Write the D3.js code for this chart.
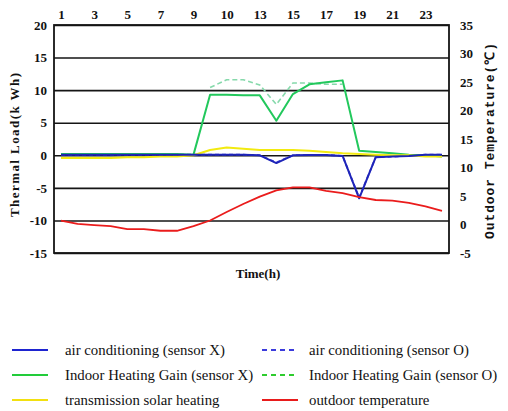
<!DOCTYPE html>
<html>
<head>
<meta charset="utf-8">
<script src="https://d3js.org/d3.v7.min.js"></script>
<style>
  body { margin: 0; background: #fff; }
</style>
</head>
<body>
<svg id="chart" width="508" height="411"></svg>
<script>
  // hours of the day and the labels printed along the top
  const hours = d3.range(1, 25);
  const topTickHours = [1, 3, 5, 7, 9, 11, 13, 15, 17, 19, 21, 23];
  const topTickLabels = ["1", "3", "5", "7", "9", "10", "13", "15", "17", "19", "21", "23"];
  const leftTicks = [-15, -10, -5, 0, 5, 10, 15, 20];
  const rightTicks = [-5, 0, 5, 10, 15, 20, 25, 30, 35];

  // thermal load (kWh), left axis
  const acX = [0.1, 0.1, 0.1, 0.1, 0.1, 0.1, 0.1, 0.1, 0.1, 0.1, 0.1, 0.1, 0.0, -1.2, 0.0, 0.05, 0.05, -0.1, -6.6, -0.3, -0.2, -0.1, 0.1, 0.1];
  const acO = [0.1, 0.1, 0.1, 0.1, 0.1, 0.1, 0.1, 0.1, 0.1, 0.1, 0.1, 0.1, 0.0, -1.1, 0.0, 0.05, 0.05, -0.1, -6.5, -0.3, -0.2, -0.1, 0.1, 0.1];
  const heatX = [0.2, 0.2, 0.2, 0.2, 0.2, 0.2, 0.2, 0.2, 0.1, 9.3, 9.3, 9.2, 9.2, 5.3, 9.4, 10.9, 11.2, 11.5, 0.7, 0.5, 0.3, 0.1, 0.0, -0.2];
  const heatO = [null, null, null, null, null, null, null, null, null, 10.4, 11.6, 11.6, 10.8, 7.8, 11.1, 11.1, 10.9, 10.9, null, null, null, null, null, null];
  const solar = [-0.4, -0.4, -0.4, -0.4, -0.3, -0.3, -0.2, -0.2, 0.0, 0.8, 1.2, 1.0, 0.8, 0.8, 0.8, 0.7, 0.5, 0.3, 0.2, 0.1, 0.0, 0.0, -0.2, -0.2];
  // outdoor temperature (°C), right axis
  const outdoor = [0.7, 0.1, -0.1, -0.3, -0.8, -0.8, -1.1, -1.1, -0.3, 0.7, 2.2, 3.6, 4.9, 6.0, 6.5, 6.5, 5.9, 5.5, 4.8, 4.3, 4.2, 3.8, 3.2, 2.4];

  const serif = "'Liberation Serif', 'Times New Roman', 'DejaVu Serif', serif";
  const mono = "'Liberation Mono', 'Courier New', 'DejaVu Sans Mono', monospace";

  const svg = d3.select("#chart");
  svg.append("rect").attr("width", 508).attr("height", 411).attr("fill", "#fff");

  const plot = { left: 54, right: 449, top: 25, bottom: 253 };
  const plotW = plot.right - plot.left;

  const x = d3.scaleLinear().domain([1, 24]).range([61, 442]);
  const y = d3.scaleLinear().domain([-15, 20]).range([plot.bottom, plot.top]);
  const yR = d3.scaleLinear().domain([-5, 35]).range([plot.bottom, plot.top]);

  const fmt = d => String(d);
  const styleTicks = g => g.selectAll(".tick text")
    .style("font-family", serif).style("font-weight", "bold")
    .style("font-size", "13px").attr("fill", "#111");

  // left axis with grid lines
  const gLeft = svg.append("g")
    .attr("transform", `translate(${plot.left},0)`)
    .call(d3.axisLeft(y).tickValues(leftTicks).tickFormat(fmt).tickSizeInner(-plotW).tickSizeOuter(0).tickPadding(7));
  gLeft.select(".domain").remove();
  gLeft.selectAll(".tick line").attr("stroke", "#151515").attr("stroke-width", 1.6);
  styleTicks(gLeft);

  // top axis labels
  const gTop = svg.append("g")
    .attr("transform", `translate(0,${plot.top})`)
    .call(d3.axisTop(x).tickValues(topTickHours).tickFormat((d, i) => topTickLabels[i]).tickSize(0).tickPadding(6));
  gTop.select(".domain").remove();
  styleTicks(gTop);

  // right axis labels
  const gRight = svg.append("g")
    .attr("transform", `translate(${plot.right},0)`)
    .call(d3.axisRight(yR).tickValues(rightTicks).tickFormat(fmt).tickSize(0).tickPadding(11));
  gRight.select(".domain").remove();
  styleTicks(gRight);

  // frame
  svg.append("rect")
    .attr("x", plot.left).attr("y", plot.top)
    .attr("width", plotW).attr("height", plot.bottom - plot.top)
    .attr("fill", "none").attr("stroke", "#151515").attr("stroke-width", 1.8);

  const lineL = d3.line().defined(d => d[1] !== null).x(d => x(d[0])).y(d => y(d[1]));
  const lineR = d3.line().x(d => x(d[0])).y(d => yR(d[1]));
  const pairs = arr => hours.map((h, i) => [h, arr[i]]);

  const series = [
    { data: heatO, line: lineL, color: "#86d9ab", width: 1.6, dash: "5,3" },
    { data: acO, line: lineL, color: "#4a4ae0", width: 1.8, dash: "4,3" },
    { data: heatX, line: lineL, color: "#22c85c", width: 2, dash: null },
    { data: solar, line: lineL, color: "#f2ea10", width: 2, dash: null },
    { data: acX, line: lineL, color: "#1e24b8", width: 2, dash: null },
    { data: outdoor, line: lineR, color: "#ea1c1c", width: 1.8, dash: null }
  ];

  svg.append("g").selectAll("path")
    .data(series)
    .enter().append("path")
    .attr("d", s => s.line(pairs(s.data)))
    .attr("fill", "none")
    .attr("stroke", s => s.color)
    .attr("stroke-width", s => s.width)
    .attr("stroke-dasharray", s => s.dash)
    .attr("stroke-linejoin", "round");

  // axis titles
  svg.append("text")
    .attr("transform", "translate(19,145) rotate(-90)")
    .attr("text-anchor", "middle")
    .attr("textLength", 144)
    .style("font-family", serif)
    .style("font-weight", "bold").style("font-size", "13px").attr("fill", "#111")
    .text("Thermal Load(k Wh)");

  svg.append("text")
    .attr("transform", "translate(494,141) rotate(-90)")
    .attr("text-anchor", "middle")
    .attr("textLength", 196)
    .style("font-family", mono)
    .style("font-weight", "bold").style("font-size", "13px").attr("fill", "#111")
    .text("Outdoor Temperature(℃)");

  svg.append("text")
    .attr("x", 258).attr("y", 278)
    .attr("text-anchor", "middle")
    .style("font-family", serif)
    .style("font-weight", "bold").style("font-size", "13px").attr("fill", "#111")
    .text("Time(h)");

  // legend
  const legendItems = [
    { label: "air conditioning (sensor X)", color: "#1e24d0", dash: null, col: 0, row: 0 },
    { label: "air conditioning (sensor O)", color: "#3b3bdc", dash: "5,4", col: 1, row: 0 },
    { label: "Indoor Heating Gain (sensor X)", color: "#22cc3a", dash: null, col: 0, row: 1 },
    { label: "Indoor Heating Gain (sensor O)", color: "#2ecc2e", dash: "5,4", col: 1, row: 1 },
    { label: "transmission solar heating", color: "#f2e010", dash: null, col: 0, row: 2 },
    { label: "outdoor temperature", color: "#e81c1c", dash: null, col: 1, row: 2 }
  ];
  const colX = [12, 262];
  const rowY = [350, 375, 400];

  const legend = svg.append("g").selectAll("g")
    .data(legendItems)
    .enter().append("g")
    .attr("transform", d => `translate(${colX[d.col]},${rowY[d.row]})`);

  legend.append("line")
    .attr("x1", 0).attr("x2", 36)
    .attr("stroke", d => d.color).attr("stroke-width", 2)
    .attr("stroke-dasharray", d => d.dash);

  legend.append("text")
    .attr("x", d => d.col === 0 ? 53 : 47)
    .attr("y", 5)
    .style("font-family", serif)
    .style("font-size", "14.8px").attr("fill", "#111")
    .text(d => d.label);
</script>
</body>
</html>
